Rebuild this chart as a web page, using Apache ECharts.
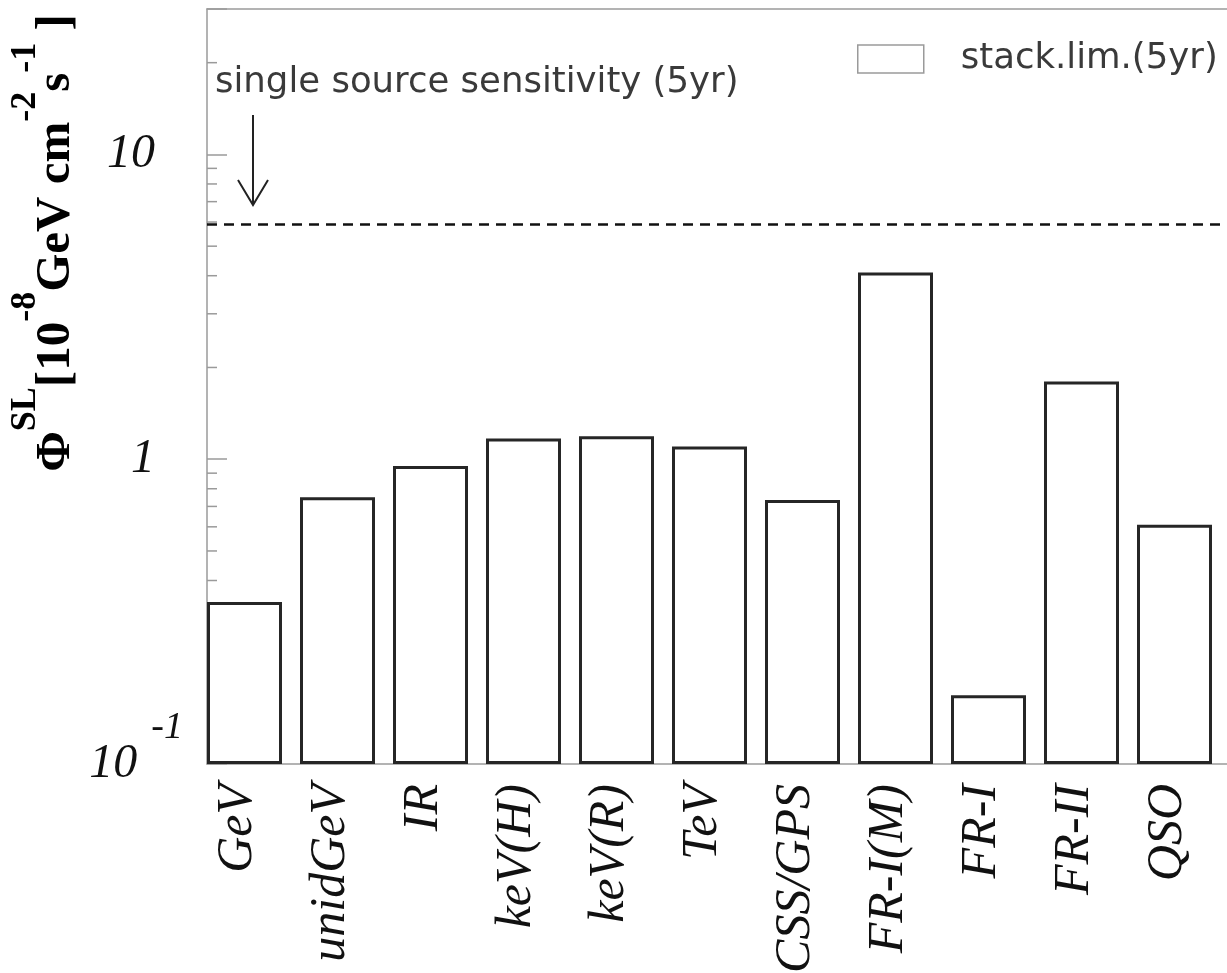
<!DOCTYPE html>
<html>
<head>
<meta charset="utf-8">
<script src="https://cdn.jsdelivr.net/npm/echarts@6/dist/echarts.min.js"></script>
<style>
html,body{margin:0;padding:0;background:#fff;}
#chart{width:1227px;height:973px;}
</style>
</head>
<body>
<div id="chart"></div>
<script>
// ---- data ----
const categories = ['GeV', 'unidGeV', 'IR', 'keV(H)', 'keV(R)', 'TeV', 'CSS/GPS', 'FR-I(M)', 'FR-I', 'FR-II', 'QSO'];
const stackLimit5yr = [0.34, 0.75, 0.95, 1.17, 1.19, 1.10, 0.735, 4.10, 0.168, 1.80, 0.61];
const singleSourceSensitivity = 5.92;
const yMin = 0.1;
const yMax = 30;
const minorTickValues = [0.2, 0.3, 0.4, 0.5, 0.6, 0.7, 0.8, 0.9, 2, 3, 4, 5, 6, 7, 8, 9, 20];
const seriesName = 'stack.lim.(5yr)';
const annotationText = 'single source sensitivity (5yr)';

const serif = "'Liberation Serif', 'DejaVu Serif', serif";
const sans = "'DejaVu Sans', sans-serif";
const axisGray = '#9a9a9a';

const chart = echarts.init(document.getElementById('chart'), null, {renderer: 'canvas'});

function yLabel(v) {
  if (Math.abs(v - 0.1) < 1e-6) return '{b|10}{s|-1}';
  if (Math.abs(v - 1) < 1e-6) return '{n|1}';
  if (Math.abs(v - 10) < 1e-5) return '{n|10}';
  return '';
}

const option = {
  backgroundColor: '#fff',
  animation: false,
  grid: {
    left: 207, top: 9, bottom: 209, width: 1023, show: false,
    containLabel: false, outerBoundsMode: 'none'
  },
  legend: {
    data: [{name: seriesName, itemStyle: {color: '#fff', borderColor: axisGray, borderWidth: 1.5}}],
    left: 857, top: 41, padding: 0,
    itemWidth: 66, itemHeight: 28,
    icon: 'rect',
    textStyle: {fontFamily: sans, fontSize: 35.5, color: '#3a3a3a', padding: [0, 0, 0, 32]}
  },
  xAxis: [
    {
      type: 'category',
      data: categories,
      axisLine: {show: true, lineStyle: {color: axisGray, width: 1.5}},
      axisTick: {show: false},
      axisLabel: {
        rotate: 90, margin: 20, interval: 0,
        formatter: v => '{a|' + v + '}',
        rich: {
          a: {fontFamily: serif, fontStyle: 'italic', fontSize: 50, color: '#111', padding: [0, 0, 32, 0]}
        }
      }
    },
    {
      type: 'category',
      position: 'top',
      data: categories,
      axisLine: {show: true, lineStyle: {color: axisGray, width: 1.5}},
      axisTick: {show: false},
      axisLabel: {show: false}
    }
  ],
  yAxis: {
    type: 'log', logBase: 10, min: yMin, max: yMax, startValue: yMin,
    axisLine: {show: true, lineStyle: {color: axisGray, width: 1.5}},
    axisTick: {show: true, inside: true, length: 20, lineStyle: {color: axisGray, width: 1.5}},
    splitLine: {show: false},
    axisLabel: {
      margin: 24,
      formatter: yLabel,
      rich: {
        n: {fontFamily: serif, fontStyle: 'italic', fontSize: 48, color: '#111', padding: [0, 28, 0, 0]},
        b: {fontFamily: serif, fontStyle: 'italic', fontSize: 48, color: '#111'},
        s: {fontFamily: serif, fontStyle: 'italic', fontSize: 38, color: '#111', padding: [0, 0, 72, 14]}
      }
    }
  },
  series: [
    {
      name: seriesName,
      type: 'bar',
      data: stackLimit5yr,
      barWidth: 75,
      barGap: '0%',
      itemStyle: {color: '#fff', borderColor: '#262626', borderWidth: 3},
      markLine: {
        silent: true, symbol: 'none',
        label: {show: false},
        lineStyle: {color: '#111', width: 2.5, type: [10, 7]},
        data: [{yAxis: singleSourceSensitivity}]
      }
    },
    {
      name: 'spacer',
      type: 'bar',
      data: [],
      barWidth: 18,
      barGap: '0%'
    },
    {
      name: 'minorTicks',
      type: 'custom',
      silent: true,
      data: minorTickValues.map(v => [0, v]),
      encode: {x: 0, y: 1},
      renderItem: function (params, api) {
        const y = api.coord([0, api.value(1)])[1];
        const x0 = params.coordSys.x;
        return {type: 'line', shape: {x1: x0, y1: y, x2: x0 + 10, y2: y},
                style: {stroke: axisGray, lineWidth: 1.5}};
      }
    }
  ],
  graphic: [
    {
      type: 'text', x: 56, y: 243, rotation: Math.PI / 2,
      style: {
        text: '{b|Φ}{s|SL}{b|[10}{s|-8}{b|GeV cm}{s|-2}{b|s}{s|-1}{b| ]}',
        align: 'center', verticalAlign: 'middle',
        rich: {
          b: {fontFamily: serif, fontWeight: 'bold', fontSize: 49, fill: '#000'},
          s: {fontFamily: serif, fontWeight: 'bold', fontSize: 36, fill: '#000', padding: [0, 0, 60, 0]}
        }
      }
    },
    {
      type: 'text', x: 215, y: 83,
      style: {text: annotationText, fontFamily: sans, fontSize: 35.5, fill: '#3a3a3a',
              align: 'left', verticalAlign: 'middle'}
    },
    {
      type: 'line', shape: {x1: 253, y1: 115, x2: 253, y2: 204},
      style: {stroke: '#222', lineWidth: 2}
    },
    {
      type: 'polyline', shape: {points: [[238, 180], [253, 205], [268, 180]]},
      style: {stroke: '#222', lineWidth: 2, fill: null}
    }
  ]
};
chart.setOption(option);
</script>
</body>
</html>
